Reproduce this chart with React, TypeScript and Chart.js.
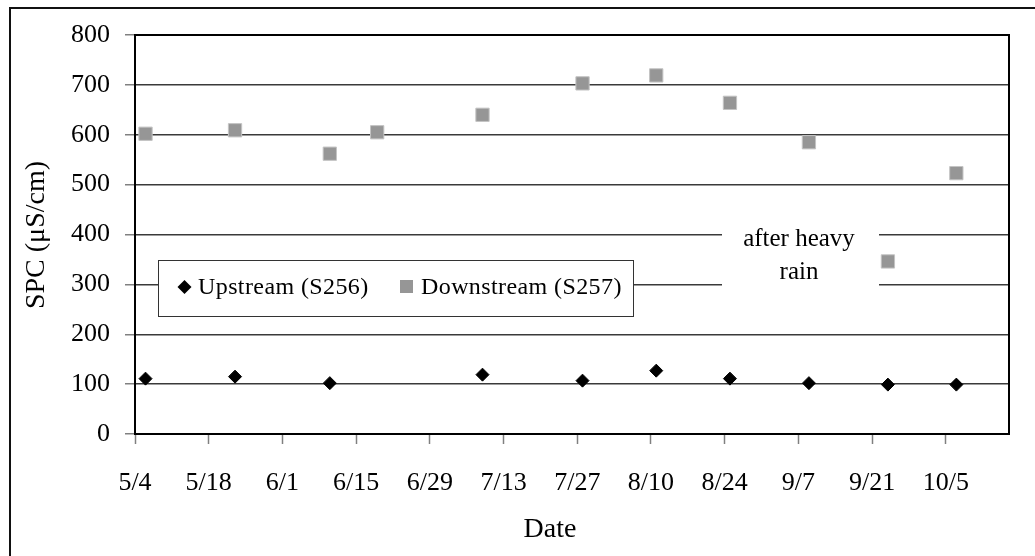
import React, { useEffect, useRef } from 'react';
import { Chart, registerables } from 'chart.js';

Chart.register(...registerables);

// ---- Data (x = days after 5/4) ----
const tickDays = [0, 14, 28, 42, 56, 70, 84, 98, 112, 126, 140, 154];
const tickLabels = ['5/4', '5/18', '6/1', '6/15', '6/29', '7/13', '7/27', '8/10', '8/24', '9/7', '9/21', '10/5'];
const xMinDay = 0;
const xMaxDay = 166;

const upstreamLabel = 'Upstream (S256)';
const upstreamDays = [2, 19, 37, 66, 85, 99, 113, 128, 143, 156];
const upstreamSPC = [111, 115, 102, 119, 107, 127, 111, 102, 99, 99];

const downstreamLabel = 'Downstream (S257)';
const downstreamDays = [2, 19, 37, 46, 66, 85, 99, 113, 128, 143, 156];
const downstreamSPC = [602, 609, 562, 605, 640, 703, 719, 664, 585, 346, 523];

const yMin = 0;
const yMax = 800;
const yStep = 100;

const yTitle = 'SPC (μS/cm)';
const xTitle = 'Date';
const noteLines = ['after heavy', 'rain'];

const SERIF = "'Liberation Serif', 'Times New Roman', serif";

function drawDiamond(ctx: CanvasRenderingContext2D, x: number, y: number, r: number) {
  ctx.beginPath();
  ctx.moveTo(x - r, y);
  ctx.lineTo(x, y - r);
  ctx.lineTo(x + r, y);
  ctx.lineTo(x, y + r);
  ctx.closePath();
  ctx.fillStyle = '#000';
  ctx.fill();
}

const decorPlugin = {
  id: 'decor',
  afterDraw(chart: any) {
    const ctx: CanvasRenderingContext2D = chart.ctx;
    const a = chart.chartArea;
    ctx.save();

    // plot frame
    ctx.strokeStyle = '#000';
    ctx.lineWidth = 2;
    ctx.strokeRect(a.left, a.top, a.right - a.left, a.bottom - a.top);

    // outer chart border (right/bottom off the picture)
    ctx.strokeStyle = '#111';
    ctx.lineWidth = 2;
    ctx.strokeRect(10, 8, 1100, 600);

    // axis titles
    ctx.fillStyle = '#000';
    ctx.font = `28px ${SERIF}`;
    ctx.textAlign = 'center';
    ctx.textBaseline = 'middle';
    ctx.fillText(xTitle, 550, 530);
    ctx.save();
    ctx.translate(37, 235);
    ctx.rotate(-Math.PI / 2);
    ctx.fillText(yTitle, 0, 0);
    ctx.restore();

    // note box
    ctx.fillStyle = '#fff';
    ctx.fillRect(722, 222, 157, 72);
    ctx.fillStyle = '#000';
    ctx.font = `25px ${SERIF}`;
    ctx.textAlign = 'center';
    ctx.textBaseline = 'alphabetic';
    ctx.fillText(noteLines[0], 799, 246);
    ctx.fillText(noteLines[1], 799, 279);

    // legend
    ctx.fillStyle = '#fff';
    ctx.fillRect(158, 260, 475, 56);
    ctx.strokeStyle = '#333';
    ctx.lineWidth = 1;
    ctx.strokeRect(158.5, 260.5, 475, 56);
    drawDiamond(ctx, 184.5, 287, 7);
    ctx.fillStyle = '#969696';
    ctx.fillRect(400, 280, 13, 13);
    ctx.fillStyle = '#000';
    ctx.font = `24px ${SERIF}`;
    (ctx as any).letterSpacing = '0.4px';
    ctx.textAlign = 'left';
    ctx.textBaseline = 'alphabetic';
    ctx.fillText(chart.data.datasets[0].label, 198, 294);
    ctx.fillText(chart.data.datasets[1].label, 421, 294);

    ctx.restore();
  },
};

export default function App() {
  const ref = useRef<HTMLCanvasElement | null>(null);

  useEffect(() => {
    if (!ref.current) return;
    const chart = new Chart(ref.current, {
      type: 'scatter',
      data: {
        datasets: [
          {
            label: upstreamLabel,
            data: upstreamDays.map((d, i) => ({ x: d, y: upstreamSPC[i] })),
            pointStyle: 'rectRot',
            pointRadius: 6.5,
            backgroundColor: '#000',
            borderColor: '#000',
            borderWidth: 1,
            showLine: false,
          },
          {
            label: downstreamLabel,
            data: downstreamDays.map((d, i) => ({ x: d, y: downstreamSPC[i] })),
            pointStyle: 'rect',
            pointRadius: 9.4,
            backgroundColor: '#969696',
            borderColor: '#c4c4c4',
            borderWidth: 1,
            showLine: false,
          },
        ],
      },
      options: {
        animation: false,
        responsive: false,
        maintainAspectRatio: false,
        devicePixelRatio: 1,
        layout: { padding: { left: 0, top: 35, right: 26, bottom: 0 } },
        plugins: {
          legend: { display: false },
          tooltip: { enabled: false },
        },
        scales: {
          x: {
            type: 'linear',
            min: xMinDay,
            max: xMaxDay,
            afterFit: (s: any) => {
              s.height = 122;
            },
            afterBuildTicks: (s: any) => {
              s.ticks = tickDays.map((v) => ({ value: v }));
            },
            grid: {
              drawOnChartArea: false,
              drawTicks: true,
              tickLength: 10,
              tickColor: '#808080',
              tickWidth: 1.5,
            },
            border: { display: true, color: '#000', width: 2 },
            ticks: {
              autoSkip: false,
              maxRotation: 0,
              padding: 24,
              color: '#000',
              font: { family: SERIF, size: 26 },
              callback: (v: any) => {
                const i = tickDays.indexOf(Number(v));
                return i >= 0 ? tickLabels[i] : '';
              },
            },
          },
          y: {
            type: 'linear',
            min: yMin,
            max: yMax,
            afterFit: (s: any) => {
              s.width = 135;
            },
            grid: {
              color: '#3a3a3a',
              lineWidth: 1.5,
              drawTicks: true,
              tickLength: 10,
              tickColor: '#808080',
              tickWidth: 1.5,
            },
            border: { display: true, color: '#000', width: 2 },
            ticks: {
              stepSize: yStep,
              padding: 15,
              color: '#000',
              font: { family: SERIF, size: 26 },
            },
          },
        },
      },
      plugins: [decorPlugin],
    });
    return () => chart.destroy();
  }, []);

  return (
    <div style={{ position: 'fixed', left: 0, top: 0, width: 1035, height: 556, background: '#fff' }}>
      <canvas ref={ref} width={1035} height={556} style={{ display: 'block' }} />
    </div>
  );
}
